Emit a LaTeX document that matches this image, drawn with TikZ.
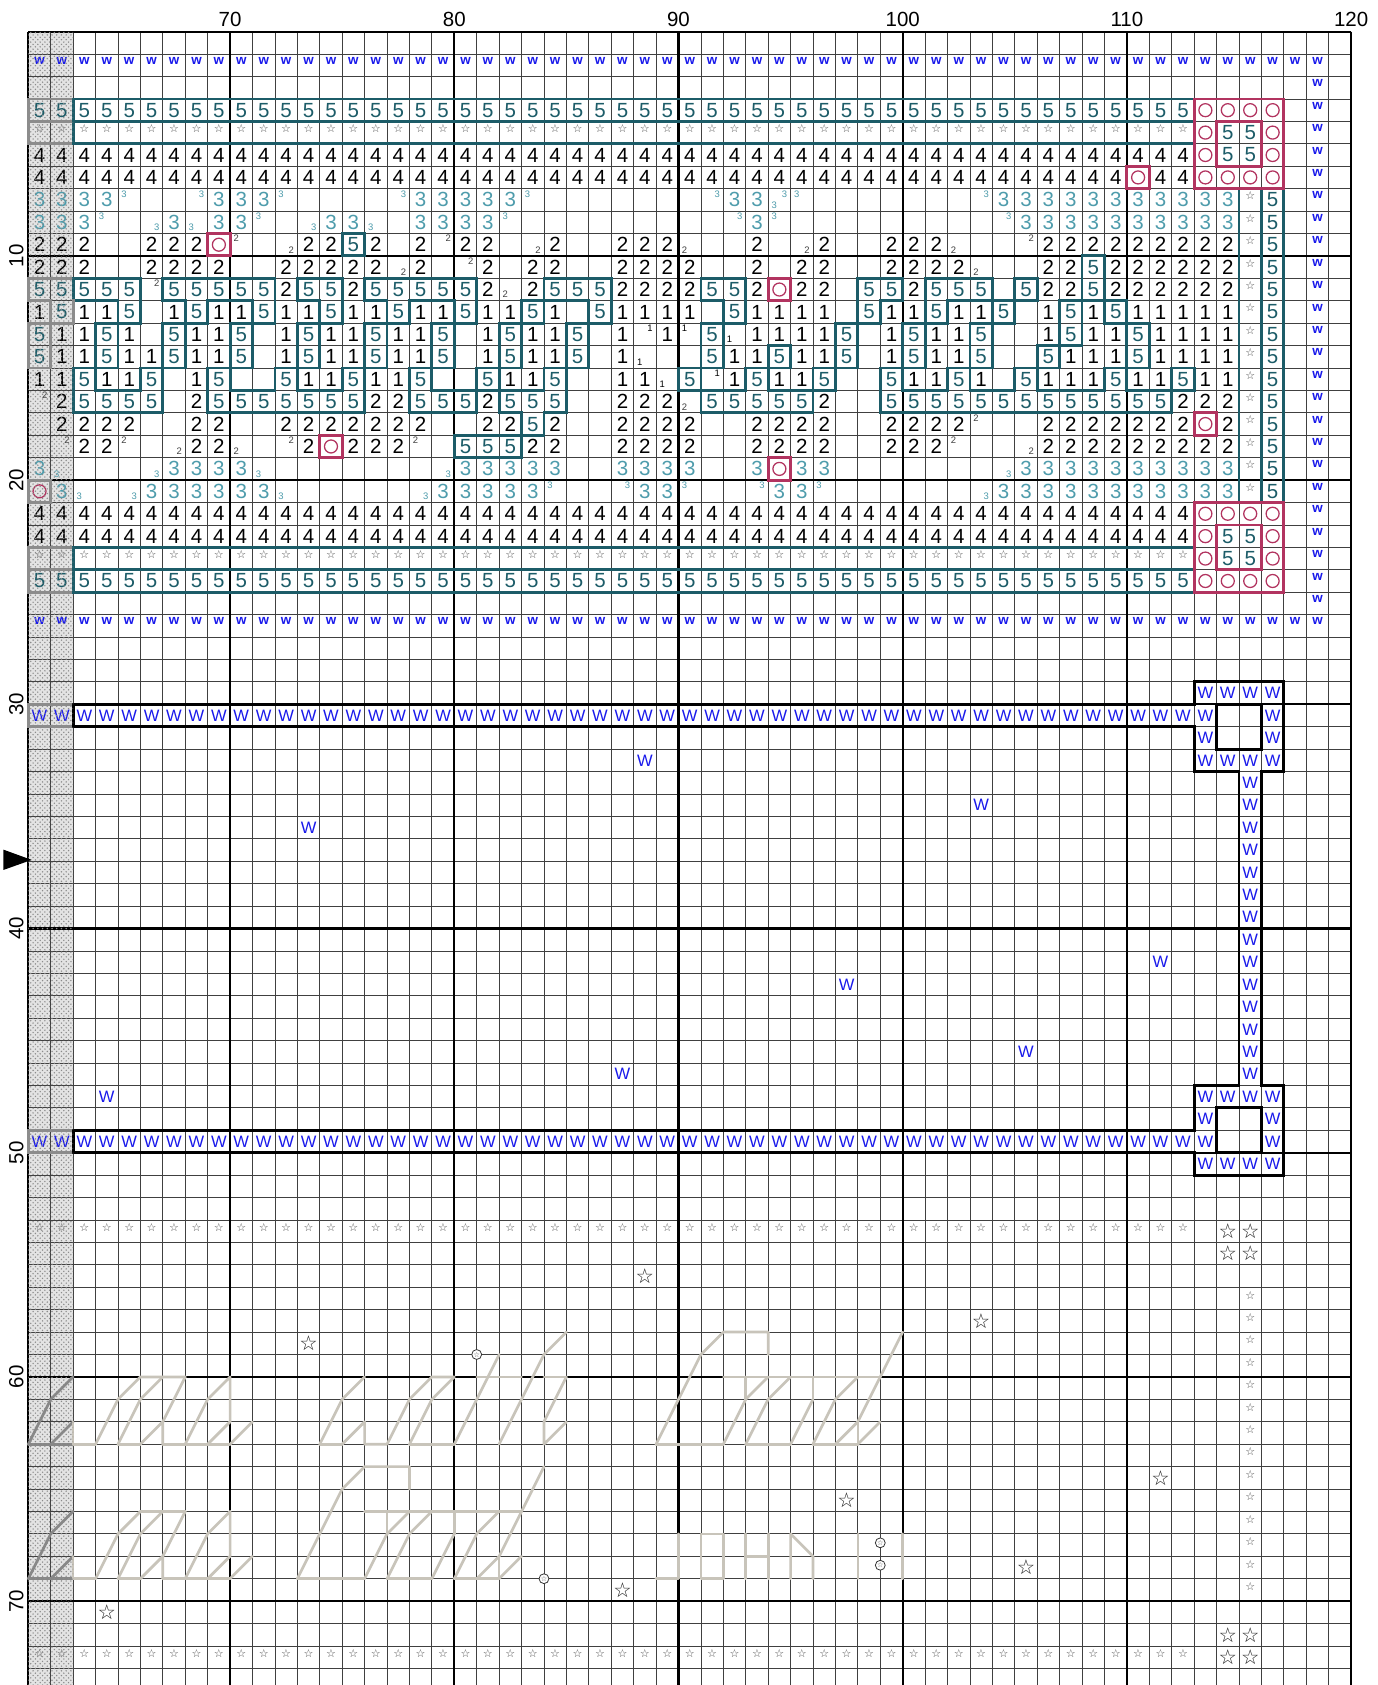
\documentclass[tikz,border=0pt]{standalone}
\usepackage{fontspec}
\setmainfont{Liberation Sans}
\newfontfamily\dvs{DejaVu Sans}
\usetikzlibrary{patterns}
\definecolor{tealD}{RGB}{28,92,104}
\definecolor{tealL}{RGB}{78,156,172}
\definecolor{pinkC}{RGB}{178,52,96}
\definecolor{blueW}{RGB}{25,25,235}
\definecolor{stitchC}{RGB}{200,196,186}
\definecolor{stitchD}{RGB}{135,135,135}
\definecolor{shadeO}{RGB}{140,140,140}
\tikzset{
  dg/.style={inner sep=0pt,font=\fontsize{13}{13}\selectfont},
  qd/.style={inner sep=0pt,font=\fontsize{6}{6}\selectfont},
  sw/.style={inner sep=0pt,font=\fontsize{8.5}{8.5}\selectfont\bfseries,text=blueW},
  bW/.style={inner sep=0pt,font=\fontsize{10.5}{10.5}\selectfont,text=blueW},
  sst/.style={inner sep=0pt,font=\dvs\fontsize{7}{7}\selectfont,text=black!70},
  bst/.style={inner sep=0pt,font=\dvs\fontsize{13}{13}\selectfont,text=black!85},
  lbl/.style={inner sep=0pt,font=\fontsize{13}{13}\selectfont},
  thin grid/.style={line width=.5pt,black!75},
  thick grid/.style={line width=1.4pt,black},
  outl/.style={line width=1.8pt,line cap=rect},
  stl/.style={line width=1.7pt,stitchC,line cap=round,line join=round},
  stld/.style={line width=1.7pt,stitchD,line cap=round,line join=round},
  knot/.style={black!80,fill=white,line width=.5pt},
}
% ---------- cell data helpers ----------
\newcommand\FR[4]{\foreach \ii in {#2,...,#3}{\expandafter\xdef\csname G:\ii:#1\endcsname{#4}}}
\newcommand\SC[2]{\foreach \ii/\tk in {#2}{\expandafter\xdef\csname G:\ii:#1\endcsname{\tk}}}
\def\gt#1#2{\ifcsname G:\number\numexpr#1\relax:\number\numexpr#2\relax\endcsname\csname G:\number\numexpr#1\relax:\number\numexpr#2\relax\endcsname\fi}
% ---------- symbol drawers ----------
\def\QA#1#2#3#4{\node[qd,text=#4] at (#1+.27,#2+.23) {#3};}
\def\QB#1#2#3#4{\node[qd,text=#4] at (#1+.73,#2+.23) {#3};}
\def\QC#1#2#3#4{\node[qd,text=#4] at (#1+.27,#2+.73) {#3};}
\def\QD#1#2#3#4{\node[qd,text=#4] at (#1+.73,#2+.73) {#3};}
\expandafter\def\csname S@1\endcsname#1#2{\node[dg] at (#1+.5,#2+.5) {1};}
\expandafter\def\csname S@2\endcsname#1#2{\node[dg] at (#1+.5,#2+.5) {2};}
\expandafter\def\csname S@3\endcsname#1#2{\node[dg,text=tealL] at (#1+.5,#2+.5) {3};}
\expandafter\def\csname S@4\endcsname#1#2{\node[dg] at (#1+.5,#2+.5) {4};}
\expandafter\def\csname S@5\endcsname#1#2{\node[dg,text=tealD] at (#1+.5,#2+.5) {5};}
\expandafter\def\csname S@o\endcsname#1#2{\draw[pinkC,line width=.8pt] (#1+.5,#2+.5) circle (.29);}
\expandafter\def\csname S@s\endcsname#1#2{\node[sst] at (#1+.5,#2+.32) {☆};}
\expandafter\def\csname S@t\endcsname#1#2{\node[sst] at (#1+.5,#2+.35) {☆};}
\expandafter\def\csname S@w\endcsname#1#2{\node[sw] at (#1+.5,#2+.3) {w};}
\expandafter\def\csname S@W\endcsname#1#2{\node[bW] at (#1+.5,#2+.5) {W};}
\expandafter\def\csname S@V\endcsname#1#2{\node[bW] at (#1+.5,#2+.5) {W};}
\expandafter\def\csname S@S\endcsname#1#2{\node[bst] at (#1+.5,#2+.5) {☆};}
\expandafter\def\csname S@1a\endcsname#1#2{\QA{#1}{#2}{1}{black}}
\expandafter\def\csname S@1b\endcsname#1#2{\QB{#1}{#2}{1}{black}}
\expandafter\def\csname S@1c\endcsname#1#2{\QC{#1}{#2}{1}{black}}
\expandafter\def\csname S@2a\endcsname#1#2{\QA{#1}{#2}{2}{black!75}}
\expandafter\def\csname S@2b\endcsname#1#2{\QB{#1}{#2}{2}{black!75}}
\expandafter\def\csname S@2c\endcsname#1#2{\QC{#1}{#2}{2}{black!75}}
\expandafter\def\csname S@2d\endcsname#1#2{\QD{#1}{#2}{2}{black!75}}
\expandafter\def\csname S@3a\endcsname#1#2{\QA{#1}{#2}{3}{tealL}}
\expandafter\def\csname S@3b\endcsname#1#2{\QB{#1}{#2}{3}{tealL}}
\expandafter\def\csname S@3c\endcsname#1#2{\QC{#1}{#2}{3}{tealL}}
\expandafter\def\csname S@3d\endcsname#1#2{\QD{#1}{#2}{3}{tealL}}
\expandafter\def\csname S@3cb\endcsname#1#2{\QC{#1}{#2}{3}{tealL}\QB{#1}{#2}{3}{tealL}}
% ---------- region outlines ----------
\newcommand\outline[4]{%
 \def\want{#1}%
 \foreach \j in {#3,...,#4}{%
  \foreach \i in {0,...,58}{%
   \edef\me{\gt{\i}{\j}}%
   \ifx\me\want
     \ifnum\i<2 \def\oc{shadeO}\else\def\oc{#2}\fi
     \edef\nb{\gt{\i-1}{\j}}\ifnum\i=2 \def\nb{!}\fi
     \ifx\nb\me\else\draw[outl,color=\oc] (\i,\j) -- (\i,\j+1);\fi
     \edef\nb{\gt{\i+1}{\j}}\ifnum\i=1 \def\nb{!}\fi
     \ifx\nb\me\else\draw[outl,color=\oc] (\i+1,\j) -- (\i+1,\j+1);\fi
     \edef\nb{\gt{\i}{\j-1}}%
     \ifx\nb\me\else\draw[outl,color=\oc] (\i,\j) -- (\i+1,\j);\fi
     \edef\nb{\gt{\i}{\j+1}}%
     \ifx\nb\me\else\draw[outl,color=\oc] (\i,\j+1) -- (\i+1,\j+1);\fi
   \fi}}}
% ---------- stitched lettering groups ----------
\newcommand\groupA{%
  \draw[stld] (0,63)--(1,61)--(2,60);
  \draw[stld] (1,63)--(2,62);
  \draw[stld] (0,63)--(2,63);
  \draw[stl] (2,62)--(2,63)--(3,63);
  \draw[stl] (3,63)--(4,61)--(5,60)--(7,60);
  \draw[stl] (4,63)--(5,61)--(6,60);
  \draw[stl] (4,63)--(5,63);
  \draw[stl] (5,63)--(6,62)--(6,63);
  \draw[stl] (6,62)--(7,60);
  \draw[stl] (6,63)--(9,63);
  \draw[stl] (7,63)--(8,61)--(9,60)--(9,62);
  \draw[stl] (8,63)--(9,62);
  \draw[stl] (9,63)--(10,62);}
\newcommand\groupC{%
  \draw[stl] (28,63)--(29,61)--(30,59)--(31,58)--(33,58)--(33,59);
  \draw[stl] (28,63)--(31,63);
  \draw[stl] (31,60)--(38,60);
  \draw[stl] (31,63)--(32,61)--(33,60);
  \draw[stl] (32,60)--(32,61);
  \draw[stl] (32,63)--(33,61)--(34,60);
  \draw[stl] (32,63)--(34,63);
  \draw[stl] (34,63)--(35,61);
  \draw[stl] (35,60)--(35,61);
  \draw[stl] (35,63)--(36,61)--(37,60);
  \draw[stl] (35,63)--(37,63);
  \draw[stl] (37,62)--(37,63);
  \draw[stl] (37,62)--(38,60)--(39,58);
  \draw[stl] (36,63)--(37,62);
  \draw[stl] (37,63)--(38,62);}
\begin{document}
\begin{tikzpicture}[x=0.5cm,y=0.5cm]
% ================= data =================
\FR{1}{0}{57}{w}
\foreach \r in {2,...,25}{\expandafter\xdef\csname G:57:\r\endcsname{w}}
\FR{3}{0}{51}{5}\FR{3}{52}{55}{o}
\FR{4}{0}{51}{s}\SC{4}{52/o,53/5,54/5,55/o}
\FR{5}{0}{51}{4}\SC{5}{52/o,53/5,54/5,55/o}
\FR{6}{0}{51}{4}\SC{6}{49/o}\FR{6}{52}{55}{o}
\foreach \r in {7,...,20}{\expandafter\xdef\csname G:54:\r\endcsname{s}\expandafter\xdef\csname G:55:\r\endcsname{5}}
\FR{7}{0}{3}{3}
\SC{7}{4/3a,7/3b,8/3,9/3,10/3,11/3a,16/3b,17/3,18/3,19/3,20/3,21/3,22/3a,30/3b,31/3,32/3,33/3cb,34/3a,42/3b}
\FR{7}{43}{53}{3}
\SC{8}{0/3,1/3,2/3,3/3a,5/3d,6/3,7/3c,8/3,9/3,10/3a,12/3d,13/3,14/3,15/3c,17/3,18/3,19/3,20/3,21/3a,31/3b,32/3,33/3a,43/3b}
\FR{8}{44}{53}{3}
\SC{9}{0/2,1/2,2/2,5/2,6/2,7/2,8/o,9/2a,11/2d,12/2,13/2,14/5,15/2,17/2,18/2b,19/2,20/2,22/2d,23/2,26/2,27/2,28/2,29/2c,32/2,34/2d,35/2,38/2,39/2,40/2,41/2c,44/2b}
\FR{9}{45}{53}{2}
\SC{10}{0/2,1/2,2/2,5/2,6/2,7/2,8/2,11/2,12/2,13/2,14/2,15/2,16/2d,17/2,19/2b,20/2,22/2,23/2,26/2,27/2,28/2,29/2,32/2,34/2,35/2,38/2,39/2,40/2,41/2,42/2c,45/2,46/2,47/5}
\FR{10}{48}{53}{2}
\FR{11}{0}{4}{5}
\SC{11}{5/2b,6/5,7/5,8/5,9/5,10/5,11/2,12/5,13/5,14/2,15/5,16/5,17/5,18/5,19/5,20/2,21/2c,22/2,23/5,24/5,25/5,26/2,27/2,28/2,29/2,30/5,31/5,32/2,33/o,34/2,35/2,37/5,38/5,39/2,40/5,41/5,42/5,44/5,45/2,46/2,47/5}
\FR{11}{48}{53}{2}
\SC{12}{0/1,1/5,2/1,3/1,4/5,6/1,7/5,8/1,9/1,10/5,11/1,12/1,13/5,14/1,15/1,16/5,17/1,18/1,19/5,20/1,21/1,22/5,23/1,25/5,26/1,27/1,28/1,29/1,31/5,32/1,33/1,34/1,35/1,37/5,38/1,39/1,40/5,41/1,42/1,43/5,45/1,46/5,47/1,48/5}
\FR{12}{49}{53}{1}
\SC{13}{0/5,1/1,2/1,3/5,4/1,6/5,7/1,8/1,9/5,11/1,12/5,13/1,14/1,15/5,16/1,17/1,18/5,20/1,21/5,22/1,23/1,24/5,26/1,27/1b,28/1,29/1a,30/5,31/1c,32/1,33/1,34/1,35/1,36/5,38/1,39/5,40/1,41/1,42/5,45/1,46/5,47/1,48/1,49/5}
\FR{13}{50}{53}{1}
\SC{14}{0/5,1/1,2/1,3/5,4/1,5/1,6/5,7/1,8/1,9/5,11/1,12/5,13/1,14/1,15/5,16/1,17/1,18/5,20/1,21/5,22/1,23/1,24/5,26/1,27/1c,30/5,31/1,32/1,33/5,34/1,35/1,36/5,38/1,39/5,40/1,41/1,42/5,45/5,46/1,47/1,48/1,49/5}
\FR{14}{50}{53}{1}
\SC{15}{0/1,1/1,2/5,3/1,4/1,5/5,7/1,8/5,11/5,12/1,13/1,14/5,15/1,16/1,17/5,20/5,21/1,22/1,23/5,26/1,27/1,28/1c,29/5,30/1b,31/1,32/5,33/1,34/1,35/5,38/5,39/1,40/1,41/5,42/1,44/5,45/1,46/1,47/1,48/5,49/1,50/1,51/5,52/1,53/1}
\SC{16}{0/2b,1/2,7/2,15/2,16/2,20/2,26/2,27/2,28/2,29/2c,35/2,51/2,52/2,53/2}
\FR{16}{2}{5}{5}\FR{16}{8}{14}{5}\FR{16}{17}{19}{5}\FR{16}{21}{23}{5}\FR{16}{30}{34}{5}\FR{16}{38}{50}{5}
\SC{17}{1/2,2/2,3/2,4/2,7/2,8/2,20/2,21/2,22/5,23/2,38/2,39/2,40/2,41/2,42/2a,52/o,53/2}
\FR{17}{11}{17}{2}\FR{17}{26}{29}{2}\FR{17}{32}{35}{2}\FR{17}{45}{51}{2}
\SC{18}{1/2b,2/2,3/2,4/2a,6/2d,7/2,8/2,9/2c,11/2b,12/2,13/o,14/2,15/2,16/2,17/2a,19/5,20/5,21/5,22/2,23/2,38/2,39/2,40/2,41/2a,44/2d}
\FR{18}{26}{29}{2}\FR{18}{32}{35}{2}\FR{18}{45}{53}{2}
\SC{19}{0/3,1/3c,5/3d,10/3c,18/3d,32/3,33/o,34/3,35/3,43/3d}
\FR{19}{6}{9}{3}\FR{19}{19}{23}{3}\FR{19}{26}{29}{3}\FR{19}{44}{53}{3}
\SC{20}{0/o,1/3,2/3c,4/3d,11/3c,17/3d,23/3a,26/3b,27/3,28/3,29/3a,32/3b,33/3,34/3,35/3a,42/3d}
\FR{20}{5}{10}{3}\FR{20}{18}{22}{3}\FR{20}{43}{53}{3}
\FR{21}{0}{51}{4}\FR{21}{52}{55}{o}
\FR{22}{0}{51}{4}\SC{22}{52/o,53/5,54/5,55/o}
\FR{23}{0}{51}{s}\SC{23}{52/o,53/5,54/5,55/o}
\FR{24}{0}{51}{5}\FR{24}{52}{55}{o}
\FR{26}{0}{57}{w}
% big W frame
\FR{29}{52}{55}{W}
\FR{30}{0}{52}{W}\SC{30}{55/W}
\SC{31}{52/W,55/W}
\FR{32}{52}{55}{W}
\foreach \r in {33,...,46}{\expandafter\xdef\csname G:54:\r\endcsname{W}}
\FR{47}{52}{55}{W}
\SC{48}{52/W,55/W}
\FR{49}{0}{52}{W}\SC{49}{55/W}
\FR{50}{52}{55}{W}
\SC{32}{27/V}\SC{34}{42/V}\SC{35}{12/V}\SC{41}{50/V}\SC{42}{36/V}\SC{45}{44/V}\SC{46}{26/V}\SC{47}{3/V}
% star frame
\FR{53}{0}{51}{t}\SC{53}{53/S,54/S}\SC{54}{53/S,54/S}
\foreach \r in {56,...,69}{\expandafter\xdef\csname G:54:\r\endcsname{t}}
\SC{71}{53/S,54/S}
\FR{72}{0}{51}{t}\SC{72}{53/S,54/S}
\SC{55}{27/S}\SC{57}{42/S}\SC{58}{12/S}\SC{64}{50/S}\SC{65}{36/S}\SC{68}{44/S}\SC{69}{26/S}\SC{70}{3/S}
% ================= page =================
\useasboundingbox (59.738,1.414) rectangle (121.2,-73.742);
\fill[white] (59.738,1.414) rectangle (121.2,-73.742);
\begin{scope}[shift={(61,0)},yscale=-1]
  \fill[gray!22] (0,0) rectangle (2,73.742);
  \foreach \k in {0,...,59}{\draw[thin grid] (\k,0) -- (\k,73.742);}
  \foreach \k in {0,...,73}{\draw[thin grid] (0,\k) -- (59,\k);}
  \foreach \k in {0,9,19,29,39,49,59}{\draw[thick grid] (\k,0) -- (\k,73.742);}
  \foreach \k in {0,10,20,30,40,50,60,70}{\draw[thick grid] (0,\k) -- (59,\k);}
  % stitched lettering
  \groupA
  \begin{scope}[shift={(0,6)}]\groupA\end{scope}
  \draw[stl] (13,63)--(14,61)--(15,60);
  \draw[stl] (13,63)--(14,63);
  \draw[stl] (14,63)--(15,62)--(15,63)--(16,63);
  \draw[stl] (16,63)--(17,61)--(18,60)--(19,60);
  \draw[stl] (17,63)--(18,61)--(19,60);
  \draw[stl] (17,63)--(19,63);
  \draw[stl] (19,63)--(20,61)--(21,59);
  \draw[stl] (20,60)--(22,60);
  \draw[stl] (21,63)--(22,61)--(23,59)--(24,58);
  \draw[stl] (23,60)--(24,60);
  \draw[stl] (23,62)--(24,60);
  \draw[stl] (23,62)--(23,63)--(24,62);
  \groupC
  \begin{scope}[shift={(-16,6)}]\groupC\end{scope}
  \draw[stl] (28,69)--(29,69)--(29,67);
  \draw[stl] (30,67) rectangle (31,69);
  \draw[stl] (32,67)--(32,69);
  \draw[stl] (33,67)--(33,69);
  \draw[stl] (32,68)--(33,68);
  \draw[stl] (34,69)--(34,67)--(35,68)--(35,69);
  \draw[stl] (37,67)--(37,69);
  \draw[stl] (39,67)--(39,69);
  \foreach \p in {(20,59),(23,69),(38,67.4),(38,68.4)}{
    \draw[knot] \p circle (.22);
    \node[inner sep=0pt,font=\dvs\fontsize{4.5}{4.5}\selectfont,text=black!70] at \p {☆};}
  % symbols
  \foreach \j in {0,...,73}{\foreach \i in {0,...,58}{%
    \ifcsname G:\i:\j\endcsname\csname S@\csname G:\i:\j\endcsname\endcsname{\i}{\j}\fi}}
  % outlines
  \outline{5}{tealD}{0}{26}
  \outline{s}{tealD}{0}{26}
  \outline{W}{black}{27}{51}
  \outline{o}{pinkC}{0}{26}
  % dotted overlay of the repeated columns
  \fill[pattern=crosshatch dots,pattern color=black!45] (0,0) rectangle (2,73.742);
\end{scope}
% labels
\foreach \c in {70,80,90,100,110,120}{\node[lbl] at (\c,0.56) {\c};}
\foreach \r in {10,20,30,40,50,60,70}{\node[lbl,rotate=90] at (60.47,-\r) {\r};}
\fill[black] (59.885,-36.48) -- (59.885,-37.39) -- (61.15,-36.94) -- cycle;
\end{tikzpicture}
\end{document}
